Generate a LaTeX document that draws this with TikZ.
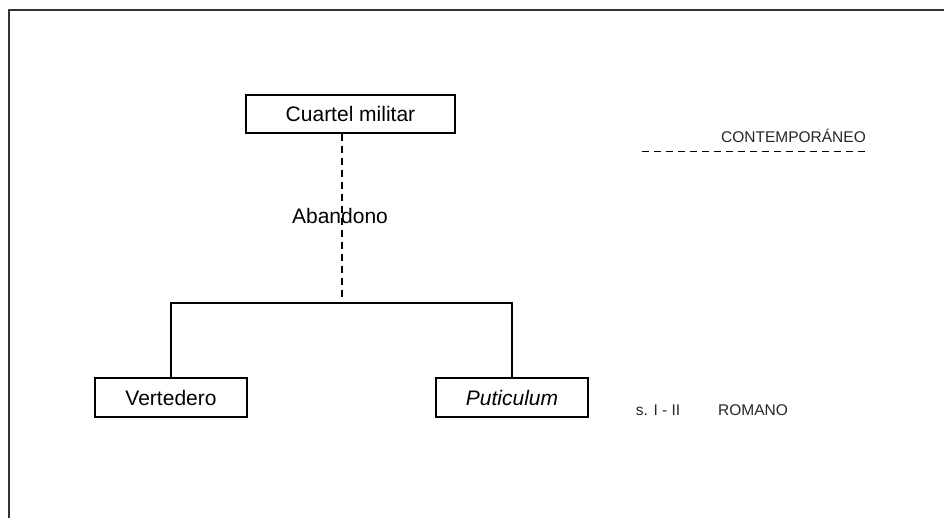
\documentclass[tikz,border=0pt]{standalone}
\usepackage{fontspec}
\setmainfont{Liberation Sans}
\begin{document}
\begin{tikzpicture}[x=1pt,y=-1pt,
  box/.style={draw=black, line width=1.2pt, inner sep=0pt, font=\fontsize{21}{24}\selectfont},
  lbl/.style={inner sep=0pt, font=\fontsize{21}{24}\selectfont},
  era/.style={inner sep=0pt, font=\fontsize{15.5}{18}\selectfont, text=black!85},
  conn/.style={line width=1.2pt, black},
  dashconn/.style={line width=1.2pt, black, dash pattern=on 7pt off 5pt}]
\useasboundingbox (0,0) rectangle (944,518);
% frame
\draw[line width=2pt, black!80] (9,518) -- (9,10) -- (944,10);
% nodes
\node[box, minimum width=209pt, minimum height=38pt] (cuartel) at (350.5,114) {Cuartel militar};
\node[box, minimum width=152pt, minimum height=39pt] (vert) at (171,397.5) {Vertedero};
\node[box, minimum width=152pt, minimum height=39pt] (put) at (512,397.5) {\itshape Puticulum};
\coordinate (j) at (342,303);
% connectors
\draw[dashconn] (j |- cuartel.south) -- (j);
\draw[conn] (vert.north) |- (j) -| (put.north);
\node[lbl] (aband) at (340,216) {Abandono};
% era labels
\node[era, anchor=east] (contemp) at (866,136) {CONTEMPORÁNEO};
\coordinate (dl1) at (642,152);
\coordinate (dl2) at (866,152);
\draw[dashconn, line width=1pt] (dl1) -- (dl2);
\node[era] (siglo) at (658,410) {s. I - II};
\node[era] (romano) at (753,410) {ROMANO};
\end{tikzpicture}
\end{document}
